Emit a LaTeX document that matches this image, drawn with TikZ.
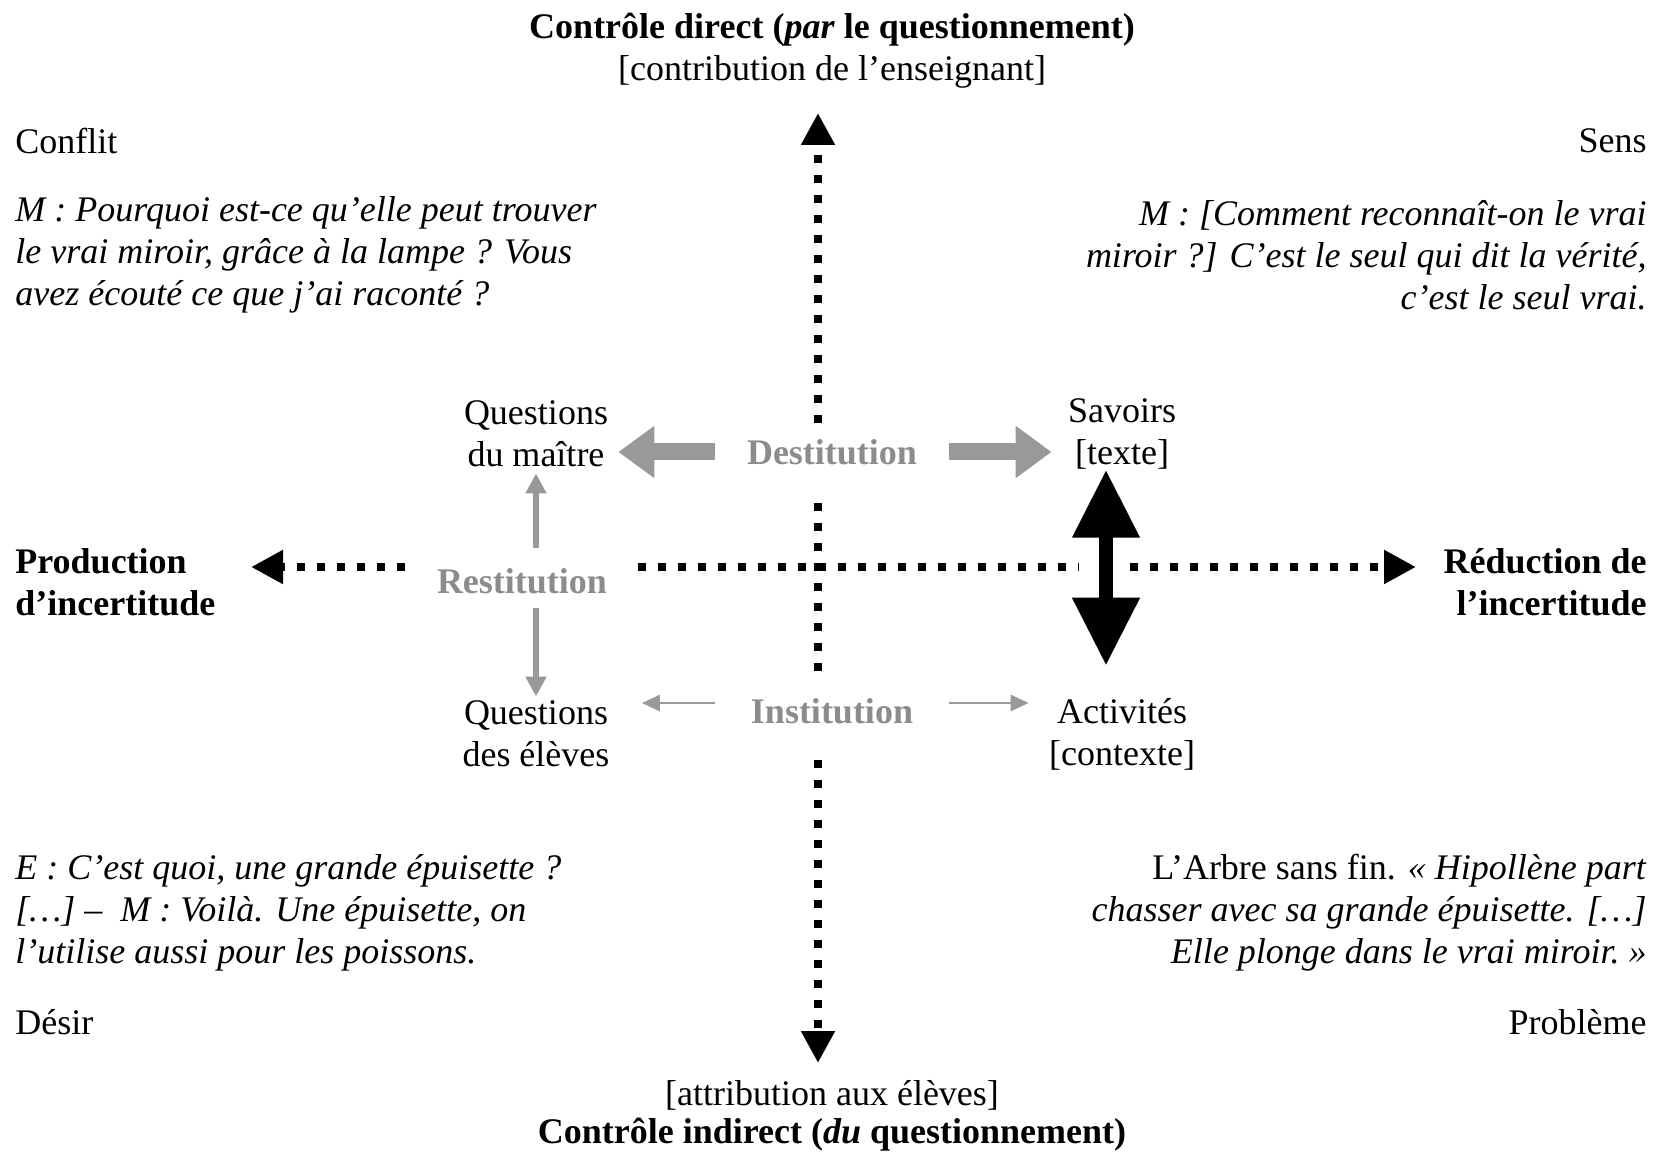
\documentclass[tikz,border=0pt]{standalone}
\usepackage{fontspec}
\setmainfont{Liberation Serif}
\usepackage{tikz}
\usetikzlibrary{arrows.meta,positioning}
\definecolor{flechegris}{gray}{0.6}
\definecolor{textegris}{gray}{0.55}

\begin{document}
\begin{tikzpicture}[x=0.5pt, y=-0.5pt,
  txt/.style={font=\fontsize{18}{21}\selectfont, inner sep=0pt, align=center},
  gauche/.style={txt, align=left, anchor=west},
  droite/.style={txt, align=right, anchor=east},
  pole/.style={txt, font=\fontsize{18}{21}\selectfont\bfseries, text=textegris},
  axe/.style={line width=4pt, dash pattern=on 4pt off 6pt,
              -{Triangle[length=16pt,width=16pt]}},
  grosse/.style={line width=8.5pt, draw=flechegris, -{Triangle[length=18pt,width=25pt]}},
  fine/.style={line width=3pt, draw=flechegris, -{Triangle[length=10pt,width=10pt]}},
  fil/.style={line width=1.3pt, draw=flechegris, -{Triangle[length=9pt,width=8pt]}},
  bidir/.style={line width=7pt, {Triangle[length=34pt,width=32pt]}-{Triangle[length=34pt,width=32pt]}},
]
\useasboundingbox (0,0) rectangle (1659,1154);

% titres haut et bas
\node[txt] (direct) at (832,51) {\bfseries Contrôle direct (\textit{par} le questionnement)\\{[contribution de l’enseignant]}};
\node[txt, font=\fontsize{18}{19}\selectfont] (indirect) at (832,1116) {{[attribution aux élèves]}\\\bfseries Contrôle indirect (\textit{du} questionnement)};

% coins
\node[gauche] (conflit) at (15,141) {Conflit};
\node[droite] (sens) at (1647,141) {Sens};
\node[gauche] (desir) at (15,1022) {Désir};
\node[droite] (probleme) at (1647,1022) {Problème};

\node[gauche, font=\fontsize{18}{21}\selectfont\itshape] (qconflit) at (15,255)
  {M : Pourquoi est-ce qu’elle peut trouver\\le vrai miroir, grâce à la lampe ? Vous\\avez écouté ce que j’ai raconté ?};
\node[droite, font=\fontsize{18}{21}\selectfont\itshape] (qsens) at (1647,255)
  {M : [Comment reconnaît-on le vrai\\miroir ?] C’est le seul qui dit la vérité,\\c’est le seul vrai.};
\node[gauche, font=\fontsize{18}{21}\selectfont\itshape] (qdesir) at (15,913)
  {E : C’est quoi, une grande épuisette ?\\{[…]} –~~M : Voilà. Une épuisette, on\\l’utilise aussi pour les poissons.};
\node[droite] (qprobleme) at (1647,913)
  {L’Arbre sans fin. \textit{«~Hipollène part}\\\textit{chasser avec sa grande épuisette. […]}\\\textit{Elle plonge dans le vrai miroir.~»}};

% extremites de l'axe horizontal
\node[gauche, font=\fontsize{18}{21}\selectfont\bfseries] (production) at (15,582) {Production\\d’incertitude};
\node[droite, font=\fontsize{18}{21}\selectfont\bfseries] (reduction) at (1647,582) {Réduction de\\l’incertitude};

% pôles
\node[txt] (qmaitre) at (536,434) {Questions\\du maître};
\node[txt] (savoirs) at (1122,434) {Savoirs\\{[texte]}};
\node[txt] (qeleves) at (536,734) {Questions\\des élèves};
\node[txt] (activites) at (1122,734) {Activités\\{[contexte]}};

\node[pole] (destitution) at (832,452) {Destitution};
\node[pole] (restitution) at (522,581) {Restitution};
\node[pole] (institution) at (832,711) {Institution};

% axes pointillés
\coordinate (ntip) at (818,113);
\coordinate (n1) at (818,423);
\coordinate (c1) at (818,503);
\coordinate (c2) at (818,675);
\coordinate (s1) at (818,760);
\coordinate (stip) at (818,1063);
\coordinate (wtip) at (251,567);
\coordinate (w1) at (405,567);
\coordinate (h1) at (638,567);
\coordinate (h2) at (1079,567);
\coordinate (h3) at (1130,567);
\coordinate (etip) at (1416,567);

\draw[axe] (n1) -- (ntip);
\draw[axe, -] (c1) -- (c2);
\draw[axe] (s1) -- (stip);
\draw[axe] (w1) -- (wtip);
\draw[axe, -] (h1) -- (h2);
\draw[axe] (h3) -- (etip);

% flèches grises
\draw[grosse, shorten <=16pt, shorten >=5pt] (destitution.west) -- (destitution.west -| qmaitre.east);
\draw[grosse, shorten <=16pt, shorten >=8pt] (destitution.east) -- (destitution.east -| savoirs.west);
\draw[fine, shorten <=10pt, shorten >=3pt] (restitution.north -| qmaitre.south) -- (qmaitre.south);
\draw[fine, shorten <=7pt, shorten >=2pt] (restitution.south -| qeleves.north) -- (qeleves.north);
\draw[fil, shorten <=18pt, shorten >=16pt] ([yshift=4pt]institution.west) -- ([yshift=4pt]institution.west -| qeleves.east);
\draw[fil, shorten <=18pt, shorten >=10pt] ([yshift=4pt]institution.east) -- ([yshift=4pt]institution.east -| activites.west);

% double flèche noire
\draw[bidir, shorten <=0pt, shorten >=16pt] ([xshift=-8pt]savoirs.south) -- ([xshift=-8pt]activites.north);
\end{tikzpicture}
\end{document}
